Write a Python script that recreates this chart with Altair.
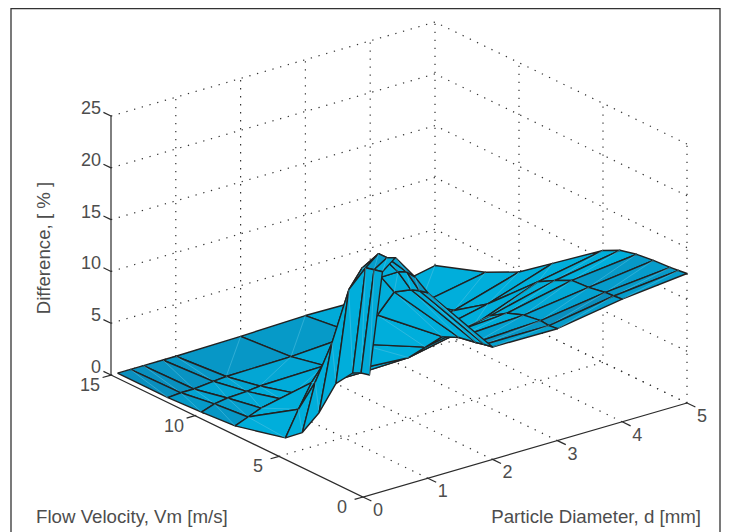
import altair as alt
import pandas as pd

# grid
D_GRID = [0.1, 0.3, 0.5, 0.8, 1, 2, 3, 4, 5]
VM_GRID = [15, 12, 10, 8, 5, 4, 3, 2, 1, 0.5, 0]
Z_D01 = [0, 0, 0.17, 0.4, 1.6, 2.9, 5.6, 9.2, 11, 11.4, 11.6]
Z_D03 = [0, 0.1, 0.6, 0.9, 4, 7.4, 12, 17.9, 20.8, 21, 21.2]
Z_D05 = [0, 0.1, 0.8, 1.4, 6.2, 9.5, 14, 19.6, 21.8, 21.8, 22.2]
Z_D08 = [0, 0.3, 0.9, 1.75, 6.2, 9.3, 13.5, 18.2, 19.5, 19.9, 19.8]
Z_D10 = [0, 0.4, 1.05, 1.96, 6.3, 9.8, 13.4, 16.4, 17.4, 17.7, 17.9]
Z_D20 = [0.1, 0.5, 1.2, 2, 5.9, 7.7, 9.5, 10.2, 10.5, 10.7, 10.85]
Z_D30 = [0.3, 0.9, 1.8, 3.7, 7.2, 8.9, 9.95, 10.55, 10.8, 10.7, 10.8]
Z_D40 = [0.2, 2, 2.9, 5.1, 9.6, 10.5, 11.3, 11.4, 11.7, 11.75, 11.85]
Z_D50 = [1.5, 3.2, 4.8, 7.2, 10.8, 11.6, 12, 12.2, 12.3, 12.4, 12.5]
Z_ROWS = [Z_D01, Z_D03, Z_D05, Z_D08, Z_D10, Z_D20, Z_D30, Z_D40, Z_D50]

Z_TICKS = [0, 5, 10, 15, 20, 25]
VM_TICKS = [0, 5, 10, 15]
D_TICKS = [0, 1, 2, 3, 4, 5]
X_TITLE = "Particle Diameter, d [mm]"
Y_TITLE = "Flow Velocity, Vm [m/s]"
Z_TITLE = "Difference, [ % ]"

W, H = 713, 524
DMAX, VMAX, ZMAX = 5, 15, 25


def proj(d, v, z):
    return (355 + 64.8 * d - 16.8 * v, 489 - 18.8 * d - 8.13 * v - 10.36 * z)


def seg_rows(name, pts, start=0):
    out = []
    for k, p in enumerate(pts):
        px, py = proj(*p)
        out.append({"g": name, "o": k, "px": px, "py": py})
    return out


# dotted box grid
grid = []
n = 0
for z in Z_TICKS:
    grid += seg_rows(n, [(0, VMAX, z), (DMAX, VMAX, z), (DMAX, 0, z)]); n += 1
for d in D_TICKS[1:]:
    grid += seg_rows(n, [(d, 0, 0), (d, VMAX, 0), (d, VMAX, ZMAX)]); n += 1
for v in VM_TICKS[1:-1]:
    grid += seg_rows(n, [(0, v, 0), (DMAX, v, 0), (DMAX, v, ZMAX)]); n += 1
grid += seg_rows(n, [(DMAX, 0, 0), (DMAX, 0, ZMAX)]); n += 1

# solid axes and tick marks
ax = []
n = 0
ax += seg_rows(n, [(0, VMAX, 0), (0, VMAX, ZMAX)]); n += 1
ax += seg_rows(n, [(0, VMAX, 0), (0, 0, 0), (DMAX, 0, 0)]); n += 1
for z in Z_TICKS:
    ax += seg_rows(n, [(0, VMAX, z), (0, VMAX + 0.45, z)]); n += 1
for v in VM_TICKS:
    ax += seg_rows(n, [(0, v, 0), (-0.13, v, 0)]); n += 1
for d in D_TICKS:
    ax += seg_rows(n, [(d, 0, 0), (d, -0.5, 0)]); n += 1

# surface faces, far to near
faces = []
gid = 0
for i in range(len(VM_GRID) - 1):
    for j in range(len(D_GRID) - 2, -1, -1):
        z00 = Z_ROWS[j][i]
        z01 = Z_ROWS[j + 1][i]
        z10 = Z_ROWS[j][i + 1]
        z11 = Z_ROWS[j + 1][i + 1]
        dv = VM_GRID[i] - VM_GRID[i + 1]
        slope = ((z10 + z11) - (z00 + z01)) / 2 / dv
        shade = max(0.0, min(1.0, slope / 0.45))
        corners = [
            (D_GRID[j], VM_GRID[i], z00),
            (D_GRID[j + 1], VM_GRID[i], z01),
            (D_GRID[j + 1], VM_GRID[i + 1], z11),
            (D_GRID[j], VM_GRID[i + 1], z10),
        ]
        for k, p in enumerate(corners + corners[:1]):
            px, py = proj(*p)
            faces.append({"g": gid, "o": k, "px": px, "py": py, "shade": shade, "kind": "edge"})
        gid += 1
        for k, p in enumerate([corners[1], corners[3]]):
            px, py = proj(*p)
            faces.append({"g": gid, "o": k, "px": px, "py": py, "shade": shade, "kind": "diag"})
        gid += 1

# labels
labels = []
for z in Z_TICKS:
    px, py = proj(0, VMAX, z)
    labels.append({"t": str(z), "px": px - 10, "py": py - 7, "a": "r"})
for v in VM_TICKS:
    px, py = proj(0, v, 0)
    labels.append({"t": str(v), "px": px - 21, "py": py + 11, "a": "c"})
for d in D_TICKS:
    px, py = proj(d, 0, 0)
    labels.append({"t": str(d), "px": px + 15, "py": py + 14, "a": "c"})

xs = alt.Scale(domain=[0, W], range=[0, W])
ys = alt.Scale(domain=[0, H], range=[0, H])
X = alt.X("px:Q", scale=xs, axis=None)
Y = alt.Y("py:Q", scale=ys, axis=None)
INK = "#2b2b2b"
TXT = "#4d4d4d"
FONT = "Liberation Sans"

frame_df = pd.DataFrame({"g": [0, 0, 0, 0], "o": [0, 1, 2, 3],
                         "px": [3, 3, 712, 712], "py": [H, 0.5, 0.5, H]})
frame = alt.Chart(frame_df).mark_line(color="#333333", strokeWidth=1.3).encode(
    x=X, y=Y, detail="g:N", order="o:Q")

grid_l = alt.Chart(pd.DataFrame(grid)).mark_line(
    color="#333333", strokeWidth=1.2, strokeDash=[1.3, 6.7]).encode(
    x=X, y=Y, detail="g:N", order="o:Q")

axes_l = alt.Chart(pd.DataFrame(ax)).mark_line(color=INK, strokeWidth=1.2).encode(
    x=X, y=Y, detail="g:N", order="o:Q")

surf = alt.Chart(pd.DataFrame(faces)).mark_line(strokeJoin="round").encode(
    x=X, y=Y, detail="g:N", order="o:Q",
    fill=alt.Fill("shade:Q", scale=alt.Scale(domain=[0, 1], range=["#0a8ebd", "#00aedb"]), legend=None),
    stroke=alt.Stroke("kind:N", scale=alt.Scale(domain=["edge", "diag"], range=["#222222", "#58c2e2"]), legend=None),
    strokeWidth=alt.StrokeWidth("kind:N", scale=alt.Scale(domain=["edge", "diag"], range=[1.4, 0.5]), legend=None),
)

lab_df = pd.DataFrame(labels)
tick_r = alt.Chart(lab_df[lab_df.a == "r"]).mark_text(
    align="right", baseline="middle", font=FONT, fontSize=18, color=TXT).encode(x=X, y=Y, text="t:N")
tick_c = alt.Chart(lab_df[lab_df.a == "c"]).mark_text(
    align="center", baseline="middle", font=FONT, fontSize=18, color=TXT).encode(x=X, y=Y, text="t:N")

title_df = pd.DataFrame([
    {"t": Y_TITLE, "px": 28, "py": 509, "al": "l"},
    {"t": X_TITLE, "px": 693, "py": 509, "al": "r"},
])
t1 = alt.Chart(title_df[title_df.al == "l"]).mark_text(
    align="left", baseline="middle", font=FONT, fontSize=18.7, color=TXT).encode(x=X, y=Y, text="t:N")
t2 = alt.Chart(title_df[title_df.al == "r"]).mark_text(
    align="right", baseline="middle", font=FONT, fontSize=18.7, color=TXT).encode(x=X, y=Y, text="t:N")
t3 = alt.Chart(pd.DataFrame([{"t": Z_TITLE, "px": 36, "py": 240}])).mark_text(
    align="center", baseline="middle", angle=270, font=FONT, fontSize=18.7, color=TXT).encode(x=X, y=Y, text="t:N")

chart = alt.layer(frame, grid_l, axes_l, surf, tick_r, tick_c, t1, t2, t3).properties(
    width=W, height=H, padding=0, autosize=alt.AutoSizeParams(type="none"),
    background="white",
).configure_view(stroke=None)

chart.save("out.html", embed_options={"renderer": "svg", "actions": False})
